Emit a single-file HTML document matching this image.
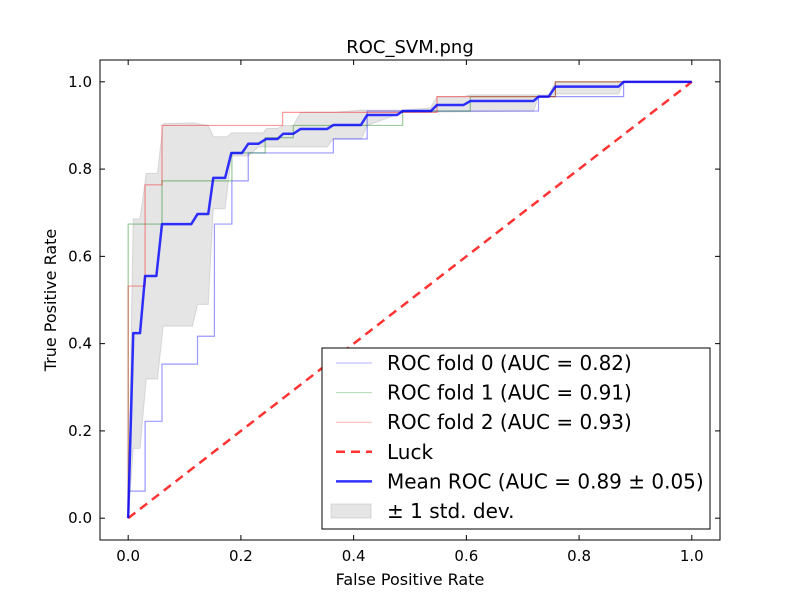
<!DOCTYPE html>
<html><head><meta charset="utf-8"><style>
body{margin:0;background:#fff}
svg text{font-family:"DejaVu Sans","Liberation Sans",sans-serif}
</style></head><body>
<svg id="chart" width="800" height="600" xmlns="http://www.w3.org/2000/svg">
<rect width="800" height="600" fill="#fff"/>
<text x="410" y="53" font-size="18" text-anchor="middle">ROC_SVM.png</text>
<g id="plot"></g>
<text x="410" y="585" font-size="16" text-anchor="middle">False Positive Rate</text>
<text x="56" y="300" font-size="16" text-anchor="middle" transform="rotate(-90 56 300)">True Positive Rate</text>
</svg>
<script>
const fold0X=[0,0,0.03,0.03,0.06,0.06,0.123,0.123,0.153,0.153,0.184,0.184,0.213,0.213,0.364,0.364,0.424,0.424,0.728,0.728,0.879,0.879,1];
const fold0Y=[0,0.062,0.062,0.222,0.222,0.353,0.353,0.417,0.417,0.674,0.674,0.773,0.773,0.837,0.837,0.869,0.869,0.933,0.933,0.966,0.966,1,1];
const fold1X=[0,0,0.06,0.06,0.184,0.184,0.243,0.243,0.293,0.293,0.487,0.487,0.607,0.607,0.758,0.758,1];
const fold1Y=[0,0.674,0.674,0.773,0.773,0.837,0.837,0.872,0.872,0.9,0.9,0.933,0.933,0.966,0.966,1,1];
const fold2X=[0,0,0.03,0.03,0.06,0.06,0.274,0.274,0.548,0.548,0.758,0.758,1];
const fold2Y=[0,0.532,0.532,0.764,0.764,0.9,0.9,0.93,0.93,0.966,0.966,1,1];
const meanX=[0,0.009,0.021,0.030,0.050,0.060,0.112,0.123,0.142,0.151,0.172,0.183,0.202,0.213,0.231,0.245,0.265,0.275,0.293,0.306,0.353,0.364,0.413,0.424,0.477,0.487,0.537,0.548,0.595,0.607,0.719,0.728,0.746,0.758,0.870,0.879,1];
const meanY=[0,0.424,0.424,0.555,0.555,0.674,0.674,0.697,0.697,0.78,0.78,0.837,0.837,0.858,0.858,0.869,0.869,0.881,0.881,0.892,0.892,0.901,0.901,0.924,0.924,0.933,0.933,0.947,0.947,0.956,0.956,0.966,0.966,0.989,0.989,1,1];
const upperX=[0,0.009,0.021,0.032,0.052,0.062,0.114,0.142,0.151,0.176,0.183,0.24,0.245,0.265,0.275,0.293,0.306,0.364,0.414,0.487,0.536,0.548,0.595,0.607,0.746,0.758,1];
const upperY=[0,0.686,0.686,0.79,0.79,0.904,0.906,0.9,0.874,0.874,0.883,0.883,0.893,0.893,0.9,0.9,0.93,0.93,0.935,0.935,0.94,0.966,0.966,0.97,0.97,1,1];
const lowerX=[0,0.009,0.021,0.032,0.052,0.062,0.114,0.123,0.142,0.151,0.172,0.183,0.213,0.231,0.353,0.364,0.414,0.424,0.477,0.487,0.719,0.728,0.746,0.758,0.87,0.879,1];
const lowerY=[0,0.16,0.16,0.319,0.319,0.44,0.44,0.49,0.49,0.709,0.709,0.83,0.83,0.851,0.851,0.87,0.87,0.9,0.925,0.93,0.933,0.966,0.966,0.972,0.972,1,1];
const xTicks=[0,0.2,0.4,0.6,0.8,1.0];
const yTicks=[0,0.2,0.4,0.6,0.8,1.0];
const legendLabels=["ROC fold 0 (AUC = 0.82)","ROC fold 1 (AUC = 0.91)","ROC fold 2 (AUC = 0.93)","Luck","Mean ROC (AUC = 0.89 \u00b1 0.05)","\u00b1 1 std. dev."];

const NS="http://www.w3.org/2000/svg";
const L=100,R=720,T=60,B=540;
const sx=v=>L+(v+0.05)/1.1*(R-L);
const sy=v=>B-(v+0.05)/1.1*(B-T);
const g=document.getElementById('plot');
function mk(tag,attrs,parent){const e=document.createElementNS(NS,tag);for(const k in attrs)e.setAttribute(k,attrs[k]);(parent||g).appendChild(e);return e;}
const pts=(X,Y)=>X.map((x,i)=>sx(x).toFixed(2)+','+sy(Y[i]).toFixed(2)).join(' ');

let band=mk('polygon',{points:pts(upperX,upperY)+' '+pts(lowerX.slice().reverse(),lowerY.slice().reverse()),fill:'#cccccc','fill-opacity':0.5,stroke:'#bbbbbb','stroke-opacity':0.5});


const folds=[[fold0X,fold0Y,'#0000ff','fold-0-line'],[fold1X,fold1Y,'#008000','fold-1-line'],[fold2X,fold2Y,'#ff0000','fold-2-line']];
folds.forEach(f=>{
  let p=mk('polyline',{points:pts(f[0],f[1]),fill:'none',stroke:f[2],'stroke-opacity':0.4,'stroke-width':1.2});
  
  
});
let luck=mk('line',{x1:sx(0),y1:sy(0),x2:sx(1),y2:sy(1),stroke:'#ff0000','stroke-opacity':0.8,'stroke-width':2.5,'stroke-dasharray':'9,6'});


let mean=mk('polyline',{points:pts(meanX,meanY),fill:'none',stroke:'#0000ff','stroke-opacity':0.8,'stroke-width':2.5,'stroke-linejoin':'round'});



let frame=mk('rect',{x:L,y:T,width:R-L,height:B-T,fill:'none',stroke:'#000','stroke-width':1});


xTicks.forEach(v=>{
  const x=sx(v);
  mk('line',{x1:x,y1:B,x2:x,y2:B-5,stroke:'#000'});
  mk('line',{x1:x,y1:T,x2:x,y2:T+5,stroke:'#000'});
  let t=mk('text',{x:x,y:B+21,'font-size':15,'text-anchor':'middle'});
  t.textContent=v.toFixed(1);
  
  
});
yTicks.forEach(v=>{
  const y=sy(v);
  mk('line',{x1:L,y1:y,x2:L+5,y2:y,stroke:'#000'});
  mk('line',{x1:R,y1:y,x2:R-5,y2:y,stroke:'#000'});
  let t=mk('text',{x:L-8,y:y+5,'font-size':15,'text-anchor':'end'});
  t.textContent=v.toFixed(1);
  
  
});

const lg=mk('g',{});


mk('rect',{x:322,y:348,width:388,height:181,fill:'#fff',stroke:'#000'},lg);
const styles=[{s:'#0000ff',o:0.3,w:1},{s:'#008000',o:0.3,w:1},{s:'#ff0000',o:0.3,w:1},{s:'#ff0000',o:0.8,w:2.5,d:'9,6'},{s:'#0000ff',o:0.8,w:2.5},null];
legendLabels.forEach((lab,i)=>{
  const y=363+i*29.6;
  const st=styles[i];
  if(st){mk('line',{x1:336,y1:y,x2:372,y2:y,stroke:st.s,'stroke-opacity':st.o,'stroke-width':st.w,'stroke-dasharray':st.d||'none'},lg);}
  else{mk('rect',{x:331,y:y-7,width:40,height:14,fill:'#cccccc','fill-opacity':0.5,stroke:'#bbbbbb','stroke-opacity':0.5},lg);}
  let t=mk('text',{x:387,y:y+7,'font-size':20},lg);
  t.textContent=lab;
  
  
});
</script>
</body></html>
